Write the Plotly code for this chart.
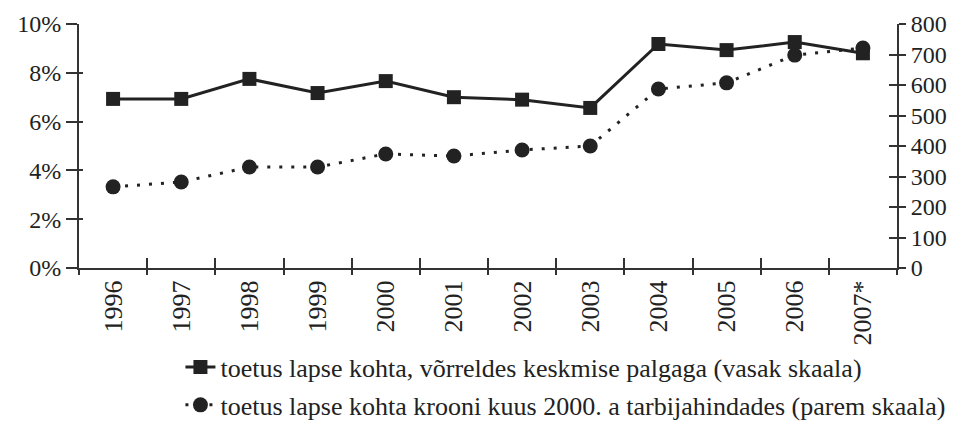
import plotly.graph_objects as go

years = ["1996", "1997", "1998", "1999", "2000", "2001", "2002", "2003", "2004", "2005", "2006", "2007*"]
share_of_wage = [6.93, 6.93, 7.75, 7.17, 7.66, 7.0, 6.9, 6.56, 9.18, 8.93, 9.26, 8.8]
kroons_2000_prices = [266, 282, 331, 331, 374, 367, 387, 400, 587, 607, 698, 721]

left_ticks = [0, 2, 4, 6, 8, 10]
left_labels = ["0%", "2%", "4%", "6%", "8%", "10%"]
right_ticks = [0, 100, 200, 300, 400, 500, 600, 700, 800]

name1 = "toetus lapse kohta, võrreldes keskmise palgaga (vasak skaala)"
name2 = "toetus lapse kohta krooni kuus 2000. a tarbijahindades (parem skaala)"

FONT = "Liberation Serif, Times New Roman, serif"
INK = "#222222"

fig = go.Figure()
fig.add_trace(go.Scatter(
    x=years, y=share_of_wage, name=name1, yaxis="y", xaxis="x",
    mode="lines+markers", legendgroup="a",
    line=dict(color=INK, width=3),
    marker=dict(symbol="square", size=14, color=INK),
))
fig.add_trace(go.Scatter(
    x=years, y=kroons_2000_prices, name=name2, yaxis="y2", xaxis="x",
    mode="lines+markers", legendgroup="b",
    line=dict(color=INK, width=3, dash="3px,9px"),
    marker=dict(symbol="circle", size=15, color=INK),
))

axis_line = dict(showline=True, linecolor="#333333", linewidth=2, showgrid=False,
                 zeroline=False, automargin=False)

fig.update_layout(
    width=972, height=423,
    margin=dict(l=79, r=75, t=24, b=155, autoexpand=False),
    plot_bgcolor="white", paper_bgcolor="white",
    font=dict(family=FONT, color=INK),
    xaxis=dict(
        type="category", categoryorder="array", categoryarray=years,
        tickson="boundaries", ticks="outside", ticklen=5, tickwidth=2, tickcolor="#333333",
        tickangle=-90, tickfont=dict(size=26, family=FONT, color=INK),
        range=[-0.5, 11.5], **axis_line,
    ),
    xaxis2=dict(
        type="category", categoryorder="array", categoryarray=years,
        overlaying="x", matches="x", tickson="boundaries", ticks="inside", ticklen=10,
        tickwidth=2, tickcolor="#333333", showticklabels=False, showgrid=False,
        zeroline=False, showline=False, automargin=False,
    ),
    yaxis=dict(
        range=[0, 10], tickvals=left_ticks, ticktext=left_labels,
        ticks="outside", ticklen=11, tickwidth=2, tickcolor="#333333",
        tickfont=dict(size=24, family=FONT, color=INK), **axis_line,
    ),
    yaxis3=dict(
        range=[0, 10], overlaying="y", side="left", tickvals=left_ticks,
        ticks="inside", ticklen=4, tickwidth=2, tickcolor="#333333",
        showticklabels=False, showgrid=False, zeroline=False, showline=False,
        automargin=False,
    ),
    yaxis2=dict(
        range=[0, 800], overlaying="y", side="right", tickvals=right_ticks,
        ticks="outside", ticklen=7, tickwidth=2, tickcolor="#333333",
        tickfont=dict(size=24, family=FONT, color=INK), **axis_line,
    ),
    yaxis4=dict(
        range=[0, 800], overlaying="y", side="right", tickvals=right_ticks,
        ticks="inside", ticklen=8, tickwidth=2, tickcolor="#333333",
        showticklabels=False, showgrid=False, zeroline=False, showline=False,
        automargin=False,
    ),
    showlegend=True,
    legend=dict(
        x=0.124, y=-0.31, xanchor="left", yanchor="top",
        font=dict(size=26, family=FONT, color=INK),
        tracegroupgap=1, bgcolor="rgba(0,0,0,0)",
    ),
)

# invisible helper traces to activate the overlay tick axes
fig.add_trace(go.Scatter(x=years, y=share_of_wage, xaxis="x2", yaxis="y3",
                         mode="lines", line=dict(width=0), opacity=0,
                         showlegend=False, hoverinfo="skip"))
fig.add_trace(go.Scatter(x=years, y=kroons_2000_prices, xaxis="x2", yaxis="y4",
                         mode="lines", line=dict(width=0), opacity=0,
                         showlegend=False, hoverinfo="skip"))

fig.write_html("out.html", config={"displayModeBar": False},
               post_script="document.body.style.margin='0px';")
